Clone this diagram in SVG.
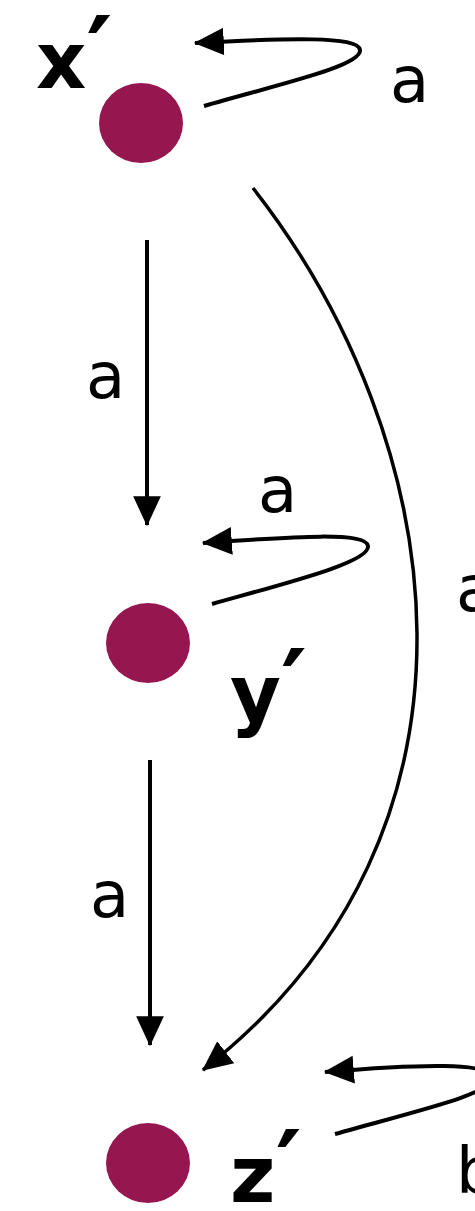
<svg xmlns="http://www.w3.org/2000/svg" width="475" height="1211" viewBox="0 0 475 1211">
<style>
.node{fill:#96174F}
.nl{font-family:"DejaVu Sans",sans-serif;font-weight:bold;font-size:78px;fill:#000}
.pr{font-size:100px}
.el{font-family:"DejaVu Sans",sans-serif;font-size:64px;fill:#000}
.e{fill:none;stroke:#000;stroke-width:4;stroke-linecap:butt}
</style>
<defs>
<marker id="ah" markerUnits="userSpaceOnUse" markerWidth="30" markerHeight="30" viewBox="0 0 26 24" refX="25" refY="12" orient="auto">
<path d="M0,0 L26,12 L0,24 Z" fill="#000"/>
</marker>
</defs>
<g id="connectors">
<path class="e" d="M204,106 C280,84 362,66 360,50 C358,36 290,38 195,43" marker-end="url(#ah)"/>
<path class="e" d="M147,240 L147,525" marker-end="url(#ah)"/>
<path class="e" d="M212,604 C290,582 370,562 368,546 C366,532 300,536 203,543" marker-end="url(#ah)"/>
<path class="e" d="M150,760 L150,1045" marker-end="url(#ah)"/>
<path class="e" style="stroke-width:3.5" d="M253,188 C450,440 510,830 203,1070" marker-end="url(#ah)"/>
<path class="e" d="M335,1134 C420,1110 492,1094 492,1078 C492,1062 420,1064 325,1072" marker-end="url(#ah)"/>
</g>
<g id="edge-labels">
<text class="el" x="390" y="102">a</text>
<text class="el" x="86" y="398">a</text>
<text class="el" x="258" y="512">a</text>
<text class="el" x="456" y="611">a</text>
<text class="el" x="90" y="917">a</text>
<text class="el" x="456" y="1193">b</text>
</g>
<g id="node-x">
<ellipse class="node" cx="141" cy="123" rx="42" ry="40"/>
<text class="nl" x="36" y="88">x<tspan class="pr">′</tspan></text>
</g>
<g id="node-y">
<ellipse class="node" cx="148" cy="643" rx="42" ry="40"/>
<text class="nl" x="230" y="721">y<tspan class="pr">′</tspan></text>
</g>
<g id="node-z">
<ellipse class="node" cx="148" cy="1163" rx="42" ry="40"/>
<text class="nl" x="230" y="1202">z<tspan class="pr">′</tspan></text>
</g>
</svg>
